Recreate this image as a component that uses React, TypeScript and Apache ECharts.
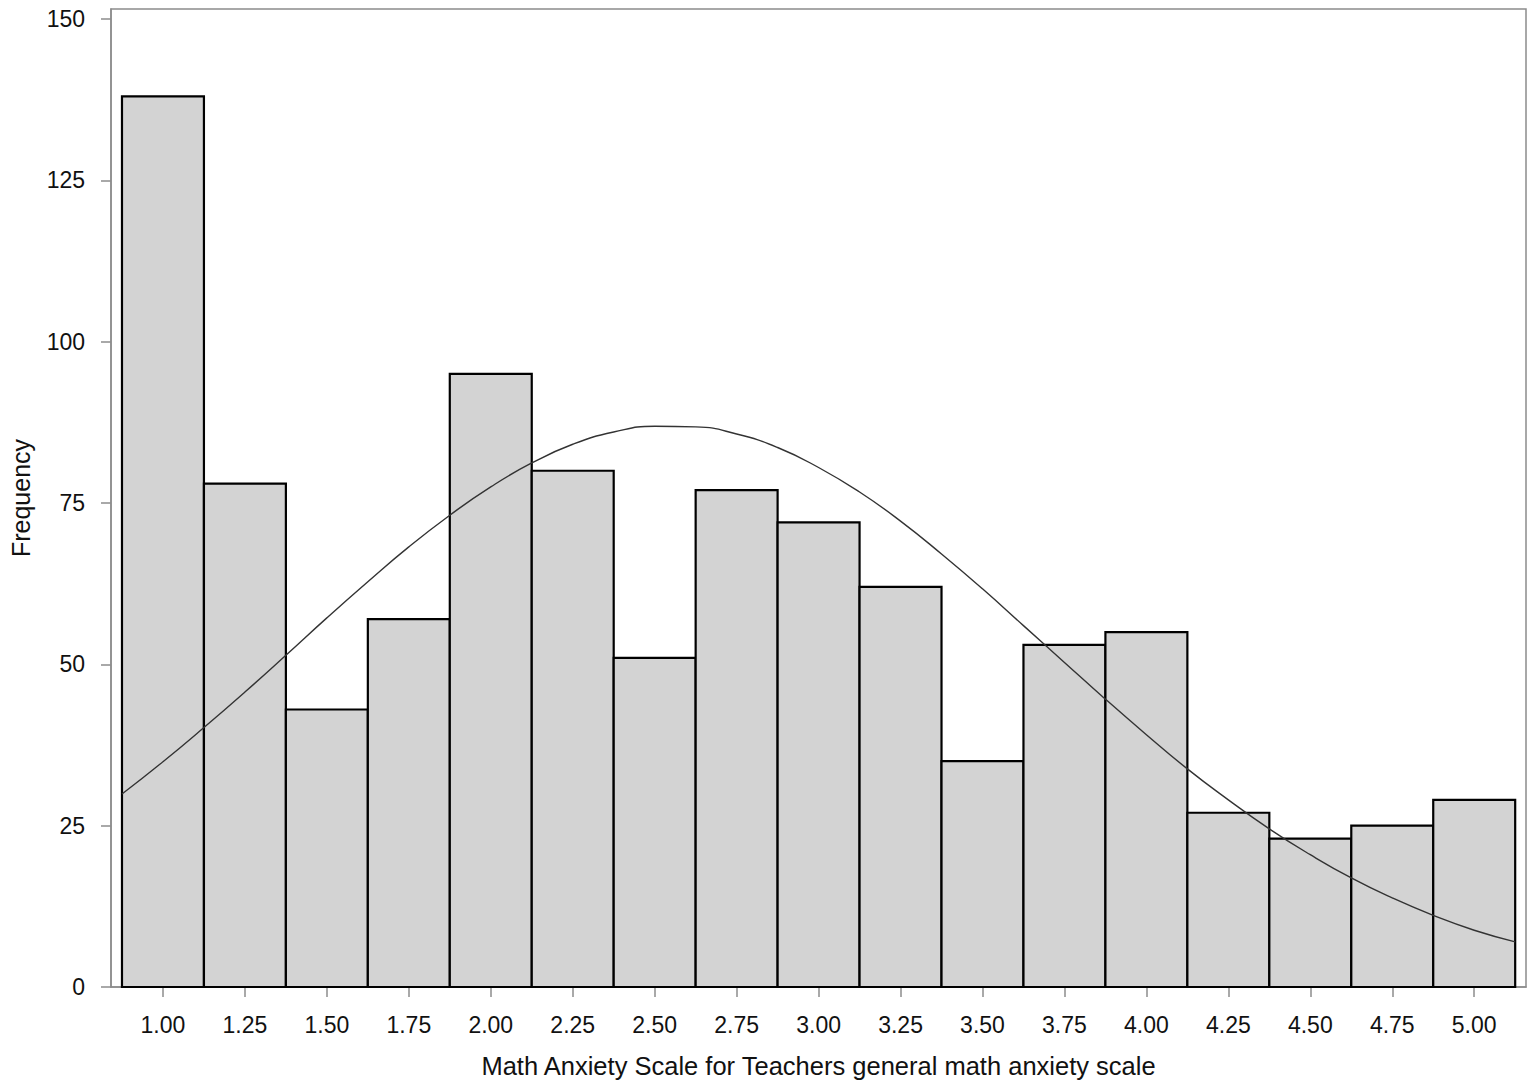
import React, { useEffect, useRef } from "react";
import * as echarts from "echarts";

const binCenters = [1.0, 1.25, 1.5, 1.75, 2.0, 2.25, 2.5, 2.75, 3.0, 3.25, 3.5, 3.75, 4.0, 4.25, 4.5, 4.75, 5.0];
const frequencies = [138, 78, 43, 57, 95, 80, 51, 77, 72, 62, 35, 53, 55, 27, 23, 25, 29];
const binWidth = 0.25;

const curveX = [0.875, 1.0, 1.125, 1.25, 1.375, 1.5, 1.625, 1.75, 1.875, 2.0, 2.125, 2.25, 2.375, 2.5, 2.625, 2.75, 2.875, 3.0, 3.125, 3.25, 3.375, 3.5, 3.625, 3.75, 3.875, 4.0, 4.125, 4.25, 4.375, 4.5, 4.625, 4.75, 4.875, 5.0, 5.125];
const curveY = [29.9, 34.9, 40.2, 45.7, 51.4, 57.2, 62.8, 68.2, 73.1, 77.5, 81.2, 84.1, 86.0, 86.9, 86.8, 85.7, 83.6, 80.5, 76.7, 72.2, 67.1, 61.7, 56.0, 50.3, 44.6, 39.1, 33.8, 29.0, 24.5, 20.5, 16.9, 13.8, 11.1, 8.8, 7.0];

const xTickValues = [1.0, 1.25, 1.5, 1.75, 2.0, 2.25, 2.5, 2.75, 3.0, 3.25, 3.5, 3.75, 4.0, 4.25, 4.5, 4.75, 5.0];
const yTickValues = [0, 25, 50, 75, 100, 125, 150];

const FONT = "Liberation Sans, Arial, sans-serif";

export default function App() {
  const ref = useRef<HTMLDivElement>(null);
  useEffect(() => {
    document.body.style.margin = "0";
    const chart = echarts.init(ref.current!, null, { renderer: "svg" });
    const barData = binCenters.map((c, i) => [c - binWidth / 2, c + binWidth / 2, frequencies[i]]);
    const lineData = curveX.map((x, i) => [x, curveY[i]]);
    chart.setOption({
      animation: false,
      backgroundColor: "#ffffff",
      grid: {
        left: 111,
        right: 9,
        top: 9,
        bottom: 101,
        containLabel: false,
        outerBoundsMode: "none",
        show: true,
        borderColor: "#8c8c8c",
        borderWidth: 1.5,
        backgroundColor: "transparent",
      },
      xAxis: {
        type: "value",
        min: 0.8415,
        max: 5.158,
        name: "Math Anxiety Scale for Teachers general math anxiety scale",
        nameLocation: "middle",
        nameGap: 66,
        nameMoveOverlap: false,
        nameTextStyle: { fontFamily: FONT, fontSize: 25.5, color: "#111" },
        axisLine: { show: true, lineStyle: { color: "#8c8c8c", width: 1.5 } },
        axisTick: {
          show: true,
          length: 10,
          inside: false,
          customValues: xTickValues,
          lineStyle: { color: "#8c8c8c", width: 1.5 },
        },
        axisLabel: {
          customValues: xTickValues,
          formatter: (v: number) => v.toFixed(2),
          fontFamily: FONT,
          fontSize: 23,
          color: "#111",
          margin: 26,
        },
        splitLine: { show: false },
      },
      yAxis: {
        type: "value",
        min: 0,
        max: 151.55,
        name: "Frequency",
        nameLocation: "middle",
        nameGap: 78,
        nameMoveOverlap: false,
        nameTextStyle: { fontFamily: FONT, fontSize: 25, color: "#111" },
        axisLine: { show: true, lineStyle: { color: "#8c8c8c", width: 1.5 } },
        axisTick: {
          show: true,
          length: 10,
          customValues: yTickValues,
          lineStyle: { color: "#8c8c8c", width: 1.5 },
        },
        axisLabel: {
          customValues: yTickValues,
          fontFamily: FONT,
          fontSize: 23,
          color: "#111",
          margin: 26,
        },
        splitLine: { show: false },
      },
      series: [
        {
          type: "custom",
          data: barData,
          encode: { x: [0, 1], y: 2 },
          renderItem: (params: any, api: any) => {
            const p0 = api.coord([api.value(0), 0]);
            const p1 = api.coord([api.value(1), api.value(2)]);
            return {
              type: "rect",
              shape: { x: p0[0], y: p1[1], width: p1[0] - p0[0], height: p0[1] - p1[1] },
              style: { fill: "#d3d3d3", stroke: "#000000", lineWidth: 2.2 },
            };
          },
          z: 2,
        },
        {
          type: "line",
          data: lineData,
          smooth: true,
          showSymbol: false,
          lineStyle: { color: "#333333", width: 1.4 },
          z: 3,
        },
      ],
    });
    return () => chart.dispose();
  }, []);
  return <div ref={ref} style={{ width: 1535, height: 1088 }} />;
}
